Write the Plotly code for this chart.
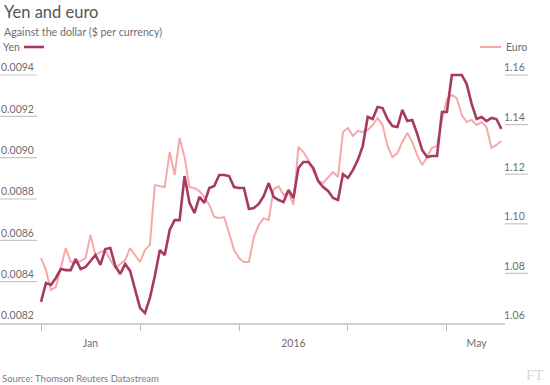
import plotly.graph_objects as go

# ---- data ----
day_idx = list(range(94))  # trading-day index, 4 Jan 2016 onward

yen = [0.008302, 0.008394, 0.008384, 0.008418, 0.008461, 0.008456, 0.008456, 0.008510, 0.008461, 0.008471,
       0.008500, 0.008529, 0.008481, 0.008558, 0.008563, 0.008476, 0.008437, 0.008485, 0.008452, 0.008360,
       0.008273, 0.008248, 0.008321, 0.008427, 0.008553, 0.008529, 0.008650, 0.008698, 0.008698, 0.008911,
       0.008781, 0.008732, 0.008810, 0.008781, 0.008853, 0.008863, 0.008916, 0.008916, 0.008911, 0.008858,
       0.008853, 0.008853, 0.008752, 0.008756, 0.008776, 0.008815, 0.008877, 0.008810, 0.008795, 0.008785,
       0.008844, 0.008805, 0.008950, 0.008979, 0.008979, 0.008950, 0.008887, 0.008858, 0.008839, 0.008805,
       0.008795, 0.008921, 0.008902, 0.008940, 0.008989, 0.009056, 0.009197, 0.009187, 0.009245, 0.009240,
       0.009187, 0.009153, 0.009148, 0.009231, 0.009177, 0.009182, 0.009115, 0.009037, 0.009003, 0.009008,
       0.009008, 0.009221, 0.009221, 0.009400, 0.009400, 0.009400, 0.009356, 0.009260, 0.009187, 0.009197,
       0.009177, 0.009192, 0.009187, 0.009139]

euro = [1.0862, 1.0814, 1.0733, 1.0745, 1.0822, 1.0902, 1.0846, 1.0842, 1.0850, 1.0862,
        1.0955, 1.0874, 1.0886, 1.0894, 1.0854, 1.0822, 1.0838, 1.0854, 1.0902, 1.0874,
        1.0846, 1.0894, 1.0915, 1.1156, 1.1152, 1.1148, 1.1290, 1.1197, 1.1346, 1.1269,
        1.1148, 1.1144, 1.1132, 1.1108, 1.1076, 1.1027, 1.1023, 1.1027, 1.0963, 1.0894,
        1.0862, 1.0846, 1.0846, 1.0947, 1.0995, 1.1023, 1.1015, 1.1140, 1.1152, 1.1116,
        1.1128, 1.1076, 1.1310, 1.1290, 1.1257, 1.1217, 1.1173, 1.1165, 1.1185, 1.1209,
        1.1189, 1.1370, 1.1386, 1.1354, 1.1374, 1.1370, 1.1378, 1.1398, 1.1427, 1.1398,
        1.1314, 1.1269, 1.1285, 1.1330, 1.1366, 1.1330, 1.1277, 1.1237, 1.1269, 1.1306,
        1.1314, 1.1419, 1.1503, 1.1519, 1.1507, 1.1439, 1.1410, 1.1419, 1.1398, 1.1410,
        1.1390, 1.1306, 1.1318, 1.1334]

month_start_idx = [0, 20, 40, 62, 82]
x_label_idx = [10, 51, 88]
x_labels = ["Jan", "2016", "May"]

yen_ticks = [0.0082, 0.0084, 0.0086, 0.0088, 0.0090, 0.0092, 0.0094]
yen_tick_text = ["0.0082", "0.0084", "0.0086", "0.0088", "0.0090", "0.0092", "0.0094"]
euro_ticks = [1.06, 1.08, 1.10, 1.12, 1.14, 1.16]
euro_tick_text = ["1.06", "1.08", "1.10", "1.12", "1.14", "1.16"]

# ---- styling ----
YEN_COLOR = "#a83962"
EURO_COLOR = "#f4aaa8"
TEXT = "#6e6e6e"
AXIS = "#d3cec8"
FONT = "Lato"

fig = go.Figure()
fig.add_trace(go.Scatter(x=day_idx, y=euro, yaxis="y", mode="lines",
                         line=dict(color=EURO_COLOR, width=2), name="Euro"))
fig.add_trace(go.Scatter(x=day_idx, y=yen, yaxis="y2", mode="lines",
                         line=dict(color=YEN_COLOR, width=2.6), name="Yen"))

W, H = 550, 385
EXTRA_PX = 22
ml, mr, mt, mb = 0, 45, 75 - EXTRA_PX, 62
plot_w = W - ml - mr
ph = H - mt - mb
px_per_day = 4.95
x0_px = 41
xr = [-x0_px / px_per_day, (plot_w - x0_px) / px_per_day]

extra = EXTRA_PX / 248
yen_rng = [0.0082, 0.0094 + 0.0012 * extra]
euro_rng = [1.06, 1.16 + 0.10 * extra]


def py(pix):
    return 1 + (mt - pix) / ph


shapes = []
for v in yen_ticks[1:]:
    shapes.append(dict(type="line", xref="paper", yref="y2", x0=0, x1=37 / plot_w, y0=v, y1=v,
                       line=dict(color="#c9c4be", width=1.2)))
for v in euro_ticks[1:]:
    shapes.append(dict(type="line", xref="paper", yref="y", x0=1, x1=1 + 23 / plot_w, y0=v, y1=v,
                       line=dict(color="#c9c4be", width=1.2)))
# legend keys
shapes.append(dict(type="line", xref="paper", yref="paper", x0=24 / plot_w, x1=44 / plot_w,
                   y0=py(47), y1=py(47), line=dict(color=YEN_COLOR, width=2.6)))
shapes.append(dict(type="line", xref="paper", yref="paper", x0=480 / plot_w, x1=501 / plot_w,
                   y0=py(47), y1=py(47), line=dict(color=EURO_COLOR, width=2)))

annotations = [
    dict(text="Yen and euro", x=2 / plot_w, y=py(12), xref="paper", yref="paper", xanchor="left",
         yanchor="middle", showarrow=False, font=dict(family=FONT, size=16.5, color="#555555")),
    dict(text="Against the dollar ($ per currency)", x=2 / plot_w, y=py(31), xref="paper", yref="paper",
         xanchor="left", yanchor="middle", showarrow=False, font=dict(family=FONT, size=10.7, color=TEXT)),
    dict(text="Yen", x=1 / plot_w, y=py(47), xref="paper", yref="paper", xanchor="left",
         yanchor="middle", showarrow=False, font=dict(family=FONT, size=10.5, color=TEXT)),
    dict(text="Euro", x=504 / plot_w, y=py(47), xref="paper", yref="paper", xanchor="left",
         yanchor="middle", showarrow=False, font=dict(family=FONT, size=10.5, color=TEXT)),
    dict(text="Source: Thomson Reuters Datastream", x=0, y=py(378), xref="paper", yref="paper",
         xanchor="left", yanchor="middle", showarrow=False, font=dict(family=FONT, size=9.5, color="#7a7a7a")),
    dict(text="FT", x=546 / plot_w, y=py(375), xref="paper", yref="paper", xanchor="right",
         yanchor="middle", showarrow=False, font=dict(family="Liberation Serif", size=15, color="#dcd7d0")),
]

fig.update_layout(
    width=W, height=H,
    margin=dict(l=ml, r=mr, t=mt, b=mb, autoexpand=False),
    paper_bgcolor="white", plot_bgcolor="white",
    showlegend=False,
    font=dict(family=FONT, color=TEXT),
    xaxis=dict(range=xr, automargin=False, showgrid=False, zeroline=False, showline=True,
               linecolor=AXIS, linewidth=1.5,
               tickmode="array", tickvals=x_label_idx, ticktext=x_labels, ticks="outside",
               ticklen=10, tickcolor="rgba(0,0,0,0)", tickfont=dict(family=FONT, size=10.5, color=TEXT),
               minor=dict(tickmode="array", tickvals=month_start_idx, ticks="outside", ticklen=6,
                          tickcolor="#bdb8b2", tickwidth=1)),
    yaxis=dict(range=euro_rng, automargin=False, side="right", showgrid=False, zeroline=False,
               showline=False, tickmode="array", tickvals=euro_ticks, ticktext=euro_tick_text,
               ticklabelposition="outside top", ticks="", ticklabelstandoff=-2,
               tickfont=dict(family=FONT, size=10.5, color=TEXT)),
    yaxis2=dict(range=yen_rng, automargin=False, overlaying="y", side="left", showgrid=False,
                zeroline=False, showline=False, tickmode="array", tickvals=yen_ticks,
                ticktext=yen_tick_text, ticklabelposition="inside top", ticks="", ticklabelstandoff=-2,
                tickfont=dict(family=FONT, size=10.5, color=TEXT)),
    shapes=shapes,
    annotations=annotations,
)

fig.write_html("out.html", config={"displayModeBar": False},
               post_script="document.body.style.margin='0';")
